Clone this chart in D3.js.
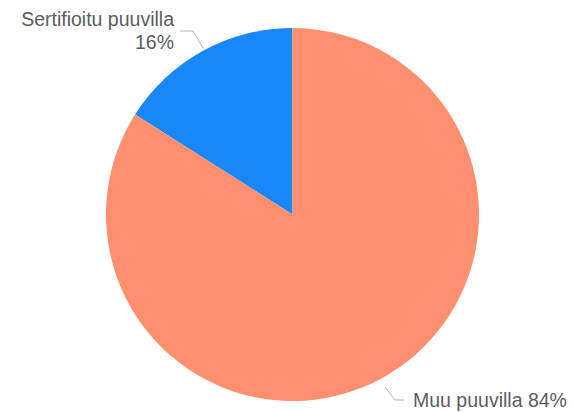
<!DOCTYPE html>
<html><head><meta charset="utf-8">
<script src="https://cdn.jsdelivr.net/npm/d3@7"></script>
<style>html,body{margin:0;padding:0;background:#fff;}svg{display:block;}</style>
</head><body>
<svg id="c" width="574" height="412"></svg>
<script>
const categories = ["Sertifioitu puuvilla", "Muu puuvilla"];
const values = [16, 84];
const colors = ["#1a87f9", "#ff8f6e"];

const svg = d3.select("#c");
const cx = 292.5, cy = 214.5, r = 186.5;
const g = svg.append("g").attr("transform", `translate(${cx},${cy})`);
const pie = d3.pie().sort(null).startAngle(0).endAngle(-2 * Math.PI);
const arcs = pie(values);
const arc = d3.arc().innerRadius(0).outerRadius(r);
g.selectAll("path").data(arcs).join("path")
  .attr("d", arc).attr("fill", (d, i) => colors[i]);

const font = "'Liberation Sans', Arial, sans-serif";
const textColor = "#595d61";
const lineColor = "#b4b4b4";
const fs = 19.5;

// Label 0: Sertifioitu puuvilla
{
  const pts = [[203, 48], [193, 31], [180, 31]];
  svg.append("polyline").attr("points", pts.map(p => p.join(",")).join(" "))
    .attr("fill", "none").attr("stroke", lineColor).attr("stroke-width", 1);
  const t = svg.append("text").attr("text-anchor", "end")
    .attr("font-family", font).attr("font-size", fs).attr("fill", textColor);
  t.append("tspan").attr("x", 174).attr("y", 26).text(categories[0]);
  t.append("tspan").attr("x", 174).attr("y", 49).text(values[0] + "%");
}
// Label 1: Muu puuvilla
{
  const pts = [[385, 387], [395, 400], [404, 400]];
  svg.append("polyline").attr("points", pts.map(p => p.join(",")).join(" "))
    .attr("fill", "none").attr("stroke", lineColor).attr("stroke-width", 1);
  svg.append("text").attr("x", 413).attr("y", 407)
    .attr("font-family", font).attr("font-size", fs).attr("fill", textColor)
    .text(categories[1] + " " + values[1] + "%");
}
</script>
</body></html>
